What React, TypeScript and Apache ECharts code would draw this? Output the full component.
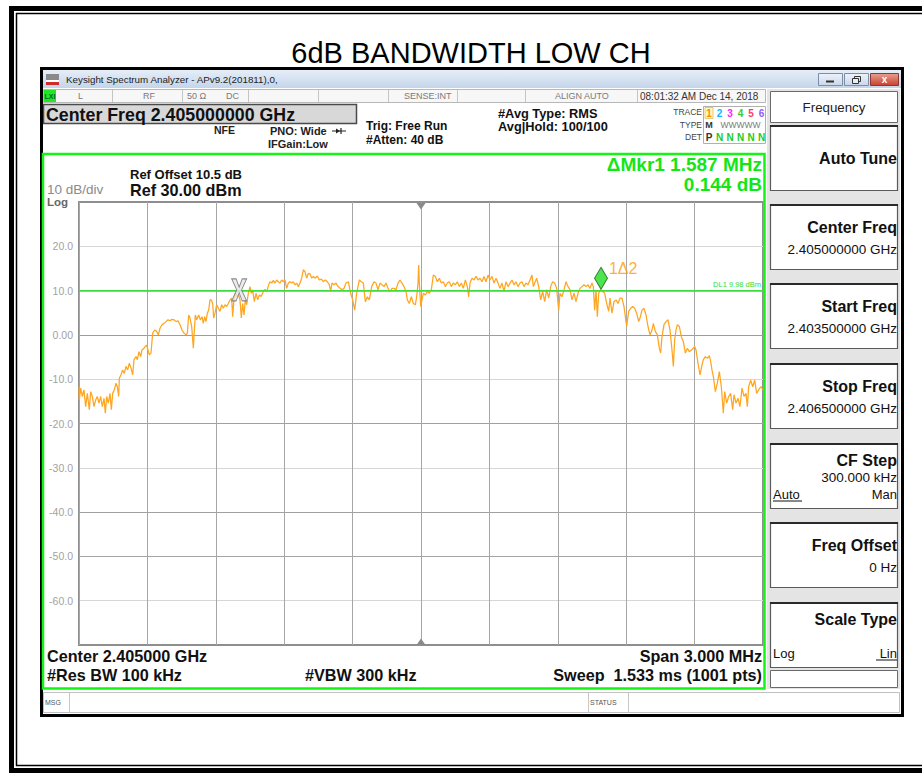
import React, { useEffect, useRef } from "react";
import * as echarts from "echarts";

const FONT = "'Liberation Sans', Arial, Helvetica, sans-serif";

// ---------- data ----------
const spanKHz = 3000; // 2.4035 GHz .. 2.4065 GHz, offsets from start
const divisionKHz = 300;
const refLevelDbm = 30;
const bottomLevelDbm = -70;
const dbPerDiv = 10;

const levelTicks = [30, 20, 10, 0, -10, -20, -30, -40, -50, -60, -70];
const levelTickLabels = ["", "20.0", "10.0", "0.00", "-10.0", "-20.0", "-30.0", "-40.0", "-50.0", "-60.0", ""];

const traceOffsetKHz = [
  0, 1.5, 7.3, 14.6, 21.9, 29.2, 36.6, 45.3, 51.2, 58.5,
  65.8, 73.1, 80.4, 87.7, 95.0, 102.3, 109.7, 115.5, 121.3, 128.7,
  136.0, 141.8, 147.7, 155.0, 162.3, 168.1, 174.0, 176.9, 184.2, 191.5,
  198.8, 206.1, 213.5, 220.8, 228.1, 235.4, 241.2, 250.0, 255.9, 263.2,
  270.5, 276.3, 285.1, 290.9, 296.8, 302.6, 308.5, 315.8, 323.1, 331.9,
  340.6, 348.0, 355.3, 364.0, 372.8, 381.6, 390.4, 399.1, 407.9, 416.7,
  425.4, 434.2, 443.0, 451.8, 460.5, 469.3, 475.2, 481.0, 486.8, 494.2,
  501.5, 505.9, 510.2, 516.1, 524.9, 532.2, 539.5, 545.3, 551.2, 557.0,
  562.9, 568.7, 574.6, 580.4, 586.3, 590.6, 596.5, 603.8, 611.1, 618.4,
  625.7, 633.0, 640.4, 647.7, 655.0, 662.3, 669.6, 674.0, 679.8, 685.7,
  691.5, 700.3, 706.1, 712.0, 717.8, 723.7, 729.5, 735.4, 742.7, 750.0,
  755.8, 761.7, 769.0, 776.3, 783.6, 790.9, 799.7, 808.5, 815.8, 823.1,
  831.9, 837.7, 845.0, 852.3, 859.7, 867.0, 874.3, 881.6, 888.9, 896.2,
  903.5, 910.8, 918.1, 925.4, 932.7, 940.1, 947.4, 954.7, 962.0, 969.3,
  976.6, 983.9, 991.2, 998.5, 1005.8, 1013.2, 1020.5, 1027.8, 1036.5, 1045.3,
  1054.1, 1062.9, 1071.6, 1080.4, 1089.2, 1098.0, 1103.8, 1109.6, 1118.4, 1127.2,
  1136.0,
  1153.5, 1162.3, 1171.1, 1181.3, 1191.5, 1200.3, 1209.1, 1217.8, 1229.5, 1238.3,
  1247.1, 1255.9, 1264.6, 1273.4, 1283.7, 1293.9, 1302.7, 1311.4, 1320.2, 1329.0,
  1337.8, 1346.5, 1355.3, 1364.1, 1372.8, 1381.6, 1390.4, 1399.1, 1407.9, 1416.7,
  1425.5, 1434.2, 1440.1, 1448.8, 1457.6, 1466.4, 1475.2, 1481.0, 1486.9, 1489.8,
  1492.7, 1498.6, 1504.4, 1510.3, 1519.1, 1527.8, 1536.6, 1545.4, 1554.1, 1562.9,
  1571.7, 1580.4, 1589.2, 1598.0, 1606.8, 1615.5, 1624.3, 1633.1, 1641.8, 1650.6,
  1659.4, 1668.2, 1676.9, 1685.7, 1694.5, 1703.3, 1709.1, 1715.0, 1723.7, 1732.5,
  1741.3, 1750.0, 1758.8, 1767.6, 1776.3, 1785.1, 1793.9, 1802.7, 1811.4, 1820.2,
  1829.0, 1837.7, 1846.5, 1855.3, 1864.1, 1872.8, 1881.6, 1890.4, 1899.1, 1907.9,
  1916.7, 1925.5, 1934.2, 1943.0, 1951.8, 1960.5, 1969.3, 1978.1, 1986.9, 1992.7,
  1998.6, 2007.3, 2016.1, 2024.9, 2033.6, 2042.4, 2051.2, 2060.0, 2068.7, 2077.5,
  2086.3, 2095.0, 2103.8, 2109.7, 2118.4, 2127.2, 2136.0, 2144.7, 2153.5, 2162.3,
  2171.1, 2179.8, 2188.6, 2197.4, 2206.1, 2214.9, 2223.7, 2232.5, 2241.2, 2250.0,
  2255.9, 2261.7, 2267.6, 2273.4, 2279.3, 2288.0, 2296.8, 2305.6, 2314.3, 2323.1,
  2329.0, 2337.7, 2346.5, 2355.3, 2364.0, 2372.8, 2381.6, 2390.4, 2396.2, 2402.1,
  2410.8, 2419.6, 2428.4, 2437.2, 2445.9, 2454.7, 2460.5, 2469.3, 2478.1, 2486.9,
  2495.6, 2504.4, 2513.2, 2519.0, 2527.8, 2536.6, 2545.3, 2551.2, 2557.0, 2565.8,
  2574.6, 2583.3, 2592.1, 2600.9, 2606.8, 2612.6, 2618.5, 2624.3, 2633.1, 2641.8,
  2650.6, 2659.4, 2668.2, 2676.9, 2685.7, 2694.5, 2700.3, 2706.2, 2714.9, 2723.7,
  2732.5, 2738.3, 2747.1, 2755.9, 2764.6, 2770.5, 2776.3, 2782.2, 2791.0, 2799.7,
  2808.5, 2817.3, 2826.0, 2831.9, 2840.7, 2849.4, 2858.2, 2867.0, 2872.8, 2881.6,
  2890.4, 2899.1, 2907.9, 2916.7, 2925.5, 2931.3, 2937.2, 2945.9, 2954.7, 2963.5,
  2972.3, 2981.0, 2989.8, 3000.0,
];

const traceLevelDbm = [
  -11.7, -14.7, -12.0, -13.9, -12.4, -16.2, -13.2, -16.9, -12.8, -13.9,
  -16.2, -14.7, -13.9, -15.4, -13.9, -16.2, -14.3, -17.7, -13.9, -15.4,
  -13.2, -16.9, -13.2, -12.4, -10.9, -11.7, -13.9, -9.8, -9.0, -7.9,
  -8.7, -7.1, -7.9, -6.4, -7.5, -9.0, -5.6, -4.9, -5.6, -3.8,
  -4.9, -3.4, -3.0, -2.6, -2.3, -3.4, -4.5, -4.1, 0.4, 1.1,
  0.8, 0.0, 1.5, 2.3, 2.6, 3.0, 3.4, 3.2, 3.5, 3.4,
  3.0, 3.2, 2.3, 1.1, 0.4, 0.0, 0.4, 4.5, 3.8, 1.9,
  -3.0, 1.1, 4.5, 3.4, 4.5, 3.4, 4.1, 2.6, 4.1, 3.0,
  4.9, 5.6, 7.9, 7.9, 7.1, 3.8, 4.9, 6.8, 6.0, 5.3,
  6.8, 6.0, 6.8, 6.4, 7.1, 7.9, 8.3, 4.1, 8.3, 9.4,
  8.7, 9.0, 7.9, 3.8, 7.1, 4.5, 7.9, 6.8, 9.4, 10.9,
  9.4, 10.2, 7.5, 9.4, 7.9, 9.0, 8.7, 9.8, 10.3, 9.8,
  11.3, 12.0, 11.7, 12.3, 11.7, 12.4, 12.0, 11.7, 12.4, 12.0,
  12.4, 10.5, 11.7, 12.0, 11.7, 12.0, 11.3, 11.7, 10.9, 11.7,
  12.8, 14.7, 14.3, 12.8, 13.9, 13.8, 12.8, 13.2, 12.8, 13.3,
  12.4, 12.6, 12.0, 12.4, 12.0, 11.3, 9.8, 11.7, 11.3, 11.7,
  10.9,
  10.2, 10.5, 11.7, 12.0, 9.4, 7.9, 5.6, 9.4, 12.4, 12.0,
  11.7, 7.5, 8.6, 7.9, 10.9, 12.0, 11.7, 10.2, 11.7, 11.3,
  10.9, 11.7, 10.5, 9.8, 10.5, 10.5, 10.2, 11.7, 12.4, 11.7,
  10.9, 9.8, 7.9, 7.1, 8.6, 7.1, 6.8, 8.6, 11.7, 15.8,
  11.7, 6.4, 7.9, 9.4, 9.0, 9.8, 9.4, 10.2, 13.5, 13.2,
  12.0, 12.8, 11.7, 12.0, 10.9, 11.7, 12.0, 10.9, 11.7, 11.3,
  12.0, 10.9, 11.7, 10.5, 12.4, 10.9, 8.6, 11.7, 12.8, 12.4,
  13.2, 12.4, 12.8, 12.0, 13.2, 12.0, 13.5, 12.4, 13.2, 11.7,
  12.8, 11.7, 10.5, 11.7, 9.8, 12.0, 10.9, 11.7, 12.4, 11.3,
  12.0, 10.9, 11.7, 12.0, 10.9, 11.7, 11.3, 12.4, 13.5, 10.9,
  11.7, 12.8, 10.9, 7.9, 9.8, 7.5, 10.2, 8.3, 10.9, 12.0,
  11.7, 10.5, 5.6, 9.4, 8.6, 10.2, 12.0, 10.9, 10.2, 7.9,
  9.4, 7.5, 9.4, 10.5, 10.9, 11.3, 10.9, 11.3, 10.5, 11.7,
  10.9, 5.6, 10.2, 4.1, 9.4, 10.2, 9.8, 9.4, 7.1, 5.3,
  8.3, 4.9, 7.5, 7.9, 7.1, 8.3, 8.3, 6.4, 4.1, 1.9,
  5.3, 6.0, 6.4, 6.0, 4.9, 3.0, 3.8, 5.6, 6.0, 4.5,
  1.9, 0.0, 1.1, 2.6, 0.8, 0.0, -3.0, -4.1, -0.4, 2.3,
  3.0, 3.4, 1.1, -3.4, -7.1, -1.1, 1.1, 2.3, 1.9, -0.4,
  -1.5, -4.1, -3.0, -3.8, -3.4, -3.0, -2.6, -3.4, -6.4, -9.0,
  -6.8, -5.6, -4.9, -5.3, -4.7, -6.0, -7.9, -9.4, -12.8, -10.9,
  -8.3, -11.7, -17.7, -12.8, -15.4, -13.9, -13.2, -16.9, -13.5, -15.4,
  -14.3, -16.2, -12.0, -13.9, -13.2, -16.2, -11.7, -10.2, -11.7, -10.2,
  -13.2, -12.4, -11.7, -12.4,
];

// markers: [marker 2 (reference, X), marker 1 (delta, diamond)]
const markerOffsetKHz = [702.5, 2289.5];
const markerLevelDbm = [10.15, 10.29];
const markerLabels = ["", "1\u03942"];
const displayLineDbm = 9.98;

// ---------- drawing helpers ----------
type AnyObj = Record<string, any>;

function txt(x: number, y: number, text: string, o: AnyObj = {}): AnyObj {
  const align = o.align ?? "left";
  return {
    type: "text",
    x,
    y,
    z: o.z ?? 50,
    silent: true,
    style: {
      text,
      fill: o.fill ?? "#111",
      font: `${o.weight ?? "normal"} ${o.size ?? 12}px ${o.family ?? FONT}`,
      align,
      textAlign: align,
      verticalAlign: "middle",
      textVerticalAlign: "middle",
    },
  };
}
function rect(x: number, y: number, w: number, h: number, fill: any, stroke?: string, lw = 1, z = 20): AnyObj {
  return {
    type: "rect",
    z,
    silent: true,
    shape: { x, y, width: w, height: h },
    style: { fill: fill ?? "none", stroke: stroke ?? "none", lineWidth: lw },
  };
}
function ln(x1: number, y1: number, x2: number, y2: number, stroke: string, lw = 1, z = 30): AnyObj {
  return { type: "line", z, silent: true, shape: { x1, y1, x2, y2 }, style: { stroke, lineWidth: lw } };
}
function poly(points: number[][], fill: string, z = 60): AnyObj {
  return { type: "polygon", z, silent: true, shape: { points }, style: { fill } };
}

function buildGraphics(): AnyObj[] {
  const g: AnyObj[] = [];
  // outer document frame
  g.push(rect(9, 6, 913, 5, "#000", undefined, 1, 10));
  g.push(rect(9, 6, 5, 767, "#000", undefined, 1, 10));
  g.push(rect(9, 768, 913, 5, "#000", undefined, 1, 10));
  g.push(ln(16, 13.5, 922, 13.5, "#000", 1.5));
  g.push(ln(16.5, 13, 16.5, 766, "#000", 1.5));
  g.push(ln(16, 765.5, 922, 765.5, "#000", 1.5));

  // title
  g.push(txt(471, 53, "6dB BANDWIDTH LOW CH", { align: "center", size: 29, fill: "#000" }));

  // window frame + title bar
  g.push(rect(41.5, 68.5, 861, 647, "none", "#000", 3, 40));
  g.push(
    rect(
      43,
      70,
      858,
      18,
      { type: "linear", x: 0, y: 0, x2: 0, y2: 1, colorStops: [{ offset: 0, color: "#e6eef8" }, { offset: 1, color: "#c4d5ea" }] },
      undefined,
      1,
      15
    )
  );
  g.push(rect(46, 74, 13, 11, "#8a8a8a", undefined, 1, 20));
  g.push(rect(46, 80, 13, 2, "#ffffff", undefined, 1, 21));
  g.push(rect(46, 82, 13, 3, "#d02b2b", undefined, 1, 21));
  g.push(txt(66, 79.5, "Keysight Spectrum Analyzer - APv9.2(201811),0,", { size: 9.8, fill: "#222" }));
  const btnFill = { type: "linear", x: 0, y: 0, x2: 0, y2: 1, colorStops: [{ offset: 0, color: "#eef3fa" }, { offset: 1, color: "#c9d7ea" }] };
  g.push(rect(818.5, 73.5, 24, 12, btnFill, "#7d8fa8", 1, 20));
  g.push(ln(826, 81.5, 834, 81.5, "#333", 2, 25));
  g.push(rect(844.5, 73.5, 24, 12, btnFill, "#7d8fa8", 1, 20));
  g.push(rect(854.5, 76.5, 6, 5, "none", "#333", 1, 25));
  g.push(rect(852.5, 78.5, 6, 5, "#e6eef8", "#333", 1, 26));
  g.push(
    rect(
      870.5,
      73.5,
      28,
      12,
      { type: "linear", x: 0, y: 0, x2: 0, y2: 1, colorStops: [{ offset: 0, color: "#e8a090" }, { offset: 1, color: "#c9412e" }] },
      "#8a3a30",
      1,
      20
    )
  );
  g.push(txt(884.5, 79.5, "x", { align: "center", size: 10, weight: "bold", fill: "#fff" }));

  // status row
  g.push(rect(43.5, 89.5, 722, 13, "#f7f7f7", "#b8b8b8", 1, 20));
  g.push(rect(44, 90, 12, 12, "#22e622", undefined, 1, 22));
  g.push(txt(50, 96, "LXI", { align: "center", size: 7, weight: "bold", fill: "#063" }));
  [112, 182, 248, 318, 388, 457, 525, 637].forEach((x) => g.push(ln(x + 0.5, 90, x + 0.5, 102, "#c4c4c4", 1, 22)));
  const stCol = "#7a7a7a";
  g.push(txt(78, 96, "L", { size: 9, fill: stCol }));
  g.push(txt(143, 96, "RF", { size: 9, fill: stCol }));
  g.push(txt(187, 96, "50 \u03a9", { size: 9, fill: stCol }));
  g.push(txt(226, 96, "DC", { size: 9, fill: stCol }));
  g.push(txt(404, 96, "SENSE:INT", { size: 9, fill: stCol }));
  g.push(txt(555, 96, "ALIGN AUTO", { size: 9, fill: stCol }));
  g.push(txt(640, 96, "08:01:32 AM Dec 14, 2018", { size: 10, fill: "#333" }));

  // center freq box
  g.push(rect(43.5, 104.5, 313, 19, "#d8d8d8", "#4a4a4a", 1.5, 20));
  g.push(txt(46, 114.5, "Center Freq 2.405000000 GHz", { size: 17.8, weight: "bold", fill: "#111" }));

  // header infos
  g.push(txt(214, 130, "NFE", { size: 10.5, weight: "bold", fill: "#222" }));
  g.push(txt(270, 131, "PNO: Wide", { size: 11, weight: "bold", fill: "#222" }));
  g.push(ln(332, 131, 346, 131, "#222", 1, 30));
  g.push(poly([[336, 128.5], [340, 131], [336, 133.5]], "#222", 31));
  g.push(ln(341, 128, 341, 134, "#222", 1.2, 30));
  g.push(txt(268, 144, "IFGain:Low", { size: 11, weight: "bold", fill: "#222" }));
  g.push(txt(366, 126, "Trig: Free Run", { size: 12, weight: "bold", fill: "#111" }));
  g.push(txt(366, 140, "#Atten: 40 dB", { size: 12, weight: "bold", fill: "#111" }));
  g.push(txt(498, 113, "#Avg Type: RMS", { size: 12.8, weight: "bold", fill: "#111" }));
  g.push(txt(498, 126.5, "Avg|Hold: 100/100", { size: 12.8, weight: "bold", fill: "#111" }));

  // trace table
  g.push(txt(702, 112, "TRACE", { align: "right", size: 8.5, fill: "#444" }));
  g.push(txt(702, 124.5, "TYPE", { align: "right", size: 8.5, fill: "#444" }));
  g.push(txt(702, 137, "DET", { align: "right", size: 8.5, fill: "#444" }));
  g.push(rect(703.5, 106.5, 62, 37, "#fff", "#b0b0b0", 1, 20));
  g.push(rect(705, 107.5, 8, 11, "#fff6b8", "#d9c26a", 0.8, 21));
  const traceCols = ["#ff8c00", "#11b8ff", "#ff22ff", "#33cc33", "#ff3a6a", "#8f5bff"];
  const digX = [709, 719.5, 730, 740.5, 751, 761.5];
  digX.forEach((x, i) => g.push(txt(x, 113, String(i + 1), { align: "center", size: 10, weight: "bold", fill: traceCols[i] })));
  g.push(txt(709, 125, "M", { align: "center", size: 9, weight: "bold", fill: "#333" }));
  g.push(txt(740.5, 125, "WWWWW", { align: "center", size: 8.5, fill: "#7a7a7a" }));
  g.push(txt(709, 137.5, "P", { align: "center", size: 10, weight: "bold", fill: "#333" }));
  digX.slice(1).forEach((x) => g.push(txt(x, 137.5, "N", { align: "center", size: 10, weight: "bold", fill: "#22cc22" })));

  // right softkey panel
  g.push(rect(767, 89, 133, 600, "#e4e4e4", undefined, 1, 15));
  g.push(rect(770.5, 91.5, 127, 31, "#fff", "#6a6a6a", 1, 20));
  g.push(txt(834, 107, "Frequency", { align: "center", size: 13.3, fill: "#222" }));
  const keyTops = [125, 204, 283, 363, 443, 522, 602];
  keyTops.forEach((t) => {
    g.push(rect(770.5, t + 0.5, 127, 65, "#fff", "#5a5a5a", 1.2, 20));
    g.push(ln(770, t + 1, 898, t + 1, "#2a2a2a", 2, 21));
  });
  g.push(rect(770.5, 670.5, 127, 17, "#fff", "#6a6a6a", 1, 20));
  const RX = 897;
  const kb = { align: "right", size: 16, weight: "bold", fill: "#111" };
  const kv = { align: "right", size: 13.5, fill: "#111" };
  g.push(txt(RX, 158, "Auto Tune", kb));
  g.push(txt(RX, 227, "Center Freq", kb));
  g.push(txt(RX, 249, "2.405000000 GHz", kv));
  g.push(txt(RX, 306, "Start Freq", kb));
  g.push(txt(RX, 328, "2.403500000 GHz", kv));
  g.push(txt(RX, 386, "Stop Freq", kb));
  g.push(txt(RX, 408, "2.406500000 GHz", kv));
  g.push(txt(RX, 460, "CF Step", kb));
  g.push(txt(RX, 477, "300.000 kHz", kv));
  g.push(txt(773, 494, "Auto", { size: 13, fill: "#111" }));
  g.push(ln(773, 501, 802, 501, "#111", 1, 30));
  g.push(txt(RX, 494, "Man", { align: "right", size: 13, fill: "#111" }));
  g.push(txt(RX, 545, "Freq Offset", kb));
  g.push(txt(RX, 567, "0 Hz", kv));
  g.push(txt(RX, 619, "Scale Type", kb));
  g.push(txt(773, 653, "Log", { size: 13, fill: "#111" }));
  g.push(txt(RX, 653, "Lin", { align: "right", size: 13, fill: "#111" }));
  g.push(ln(876, 660, 897, 660, "#111", 1, 30));

  // green display frame
  g.push(rect(43, 154, 721.5, 534.5, "none", "#14f514", 2.5, 40));

  // annotations inside display
  g.push(txt(130, 174, "Ref Offset 10.5 dB", { size: 13, weight: "bold", fill: "#111" }));
  g.push(txt(130, 189.5, "Ref 30.00 dBm", { size: 16.2, weight: "bold", fill: "#111" }));
  g.push(txt(47, 189, "10 dB/div", { size: 13.5, fill: "#8a8a8a" }));
  g.push(txt(47, 201.5, "Log", { size: 11.5, weight: "bold", fill: "#666" }));
  g.push(txt(762, 164.5, "\u0394Mkr1 1.587 MHz", { align: "right", size: 19, weight: "bold", fill: "#14e614" }));
  g.push(txt(762, 184, "0.144 dB", { align: "right", size: 19, weight: "bold", fill: "#14e614" }));

  // center triangles
  g.push(poly([[416.5, 203], [425.5, 203], [421, 209.5]], "#8a8a8a", 60));
  g.push(poly([[416.5, 645], [425.5, 645], [421, 638.5]], "#8a8a8a", 60));

  // bottom annotations
  const bt = { size: 16.2, weight: "bold", fill: "#111" };
  g.push(txt(47, 656, "Center 2.405000 GHz", bt));
  g.push(txt(47, 675, "#Res BW 100 kHz", bt));
  g.push(txt(305, 675, "#VBW 300 kHz", bt));
  g.push(txt(762, 656, "Span 3.000 MHz", { ...bt, align: "right" }));
  g.push(txt(762, 675, "Sweep  1.533 ms (1001 pts)", { ...bt, align: "right" }));

  // message row
  g.push(rect(43.5, 692.5, 856, 20, "#fff", "#c0c0c0", 1, 20));
  g.push(ln(69.5, 693, 69.5, 712, "#c8c8c8", 1, 22));
  g.push(ln(588.5, 693, 588.5, 712, "#c8c8c8", 1, 22));
  g.push(ln(628.5, 693, 628.5, 712, "#c8c8c8", 1, 22));
  g.push(txt(45, 702.5, "MSG", { size: 7, fill: "#555" }));
  g.push(txt(590, 702.5, "STATUS", { size: 7, fill: "#555" }));
  return g;
}

const X_MARK = "path://M0,0 L3,0 L5,5.2 L7,0 L10,0 L6.6,7 L10,14 L7,14 L5,8.8 L3,14 L0,14 L3.4,7 Z";

function buildOption(): AnyObj {
  const n = Math.min(traceOffsetKHz.length, traceLevelDbm.length);
  const trace = [] as number[][];
  for (let i = 0; i < n; i++) trace.push([traceOffsetKHz[i], traceLevelDbm[i]]);

  const splitCols = ["#8e8e8e", "#d6d6d6", "#a4a4a4", "#a0a0a0", "#d6d6d6", "#a0a0a0", "#d6d6d6", "#9c9c9c", "#a0a0a0", "#d6d6d6", "#8e8e8e"];

  return {
    animation: false,
    backgroundColor: "#ffffff",
    textStyle: { fontFamily: FONT },
    grid: {
      left: 79,
      top: 202,
      width: 684,
      height: 443,
      show: true,
      borderColor: "#8e8e8e",
      borderWidth: 2,
      backgroundColor: "transparent",
      containLabel: false,
      outerBoundsMode: "none",
    },
    xAxis: {
      type: "value",
      min: 0,
      max: spanKHz,
      interval: divisionKHz,
      axisLine: { show: false },
      axisTick: { show: false },
      axisLabel: { show: false },
      splitLine: { show: true, lineStyle: { color: "#a6a6a6", width: 1 } },
    },
    yAxis: {
      type: "value",
      min: bottomLevelDbm,
      max: refLevelDbm,
      interval: dbPerDiv,
      axisLine: { show: false },
      axisTick: { show: false },
      axisLabel: {
        color: "#a2a2a2",
        fontSize: 10.5,
        fontFamily: FONT,
        margin: 6,
        formatter: (v: number) => {
          const i = levelTicks.indexOf(Math.round(v));
          return i >= 0 ? levelTickLabels[i] : "";
        },
      },
      splitLine: { show: true, lineStyle: { color: splitCols, width: 1 } },
    },
    series: [
      {
        type: "line",
        data: trace,
        showSymbol: false,
        symbol: "none",
        z: 3,
        lineStyle: { color: "#ffa51f", width: 1.25 },
        silent: true,
        markLine: {
          silent: true,
          symbol: ["none", "none"],
          lineStyle: { color: "#1ef01e", width: 1.5, type: "solid" },
          label: {
            show: true,
            position: "insideEndTop",
            formatter: "DL1 " + displayLineDbm.toFixed(2) + " dBm",
            color: "#33dd33",
            fontSize: 7.5,
            fontFamily: FONT,
            distance: 2,
          },
          data: [{ yAxis: displayLineDbm }],
        },
      },
      {
        type: "scatter",
        z: 6,
        silent: true,
        data: [
          {
            value: [markerOffsetKHz[0], markerLevelDbm[0]],
            symbol: X_MARK,
            symbolSize: [15, 22],
            itemStyle: { color: "#e6e6e6", borderColor: "#6e6e6e", borderWidth: 1 },
            label: { show: false },
          },
          {
            value: [markerOffsetKHz[1], markerLevelDbm[1]],
            symbol: "diamond",
            symbolSize: [13, 22],
            symbolOffset: [0, -11],
            itemStyle: { color: "#22dd22", borderColor: "#1b5e1b", borderWidth: 1 },
            label: {
              show: true,
              formatter: markerLabels[1],
              position: "right",
              distance: 1,
              offset: [0, -10],
              color: "#ff9a00",
              fontSize: 16,
              fontFamily: FONT,
            },
          },
        ],
      },
    ],
    graphic: { elements: buildGraphics() },
  };
}

export default function App() {
  const ref = useRef<HTMLDivElement>(null);
  useEffect(() => {
    if (!ref.current) return;
    const chart = echarts.init(ref.current, null, { renderer: "svg" });
    chart.setOption(buildOption());
    return () => chart.dispose();
  }, []);
  return (
    <div
      ref={ref}
      style={{ position: "fixed", left: 0, top: 0, width: 922, height: 773, background: "#fff" }}
    />
  );
}
